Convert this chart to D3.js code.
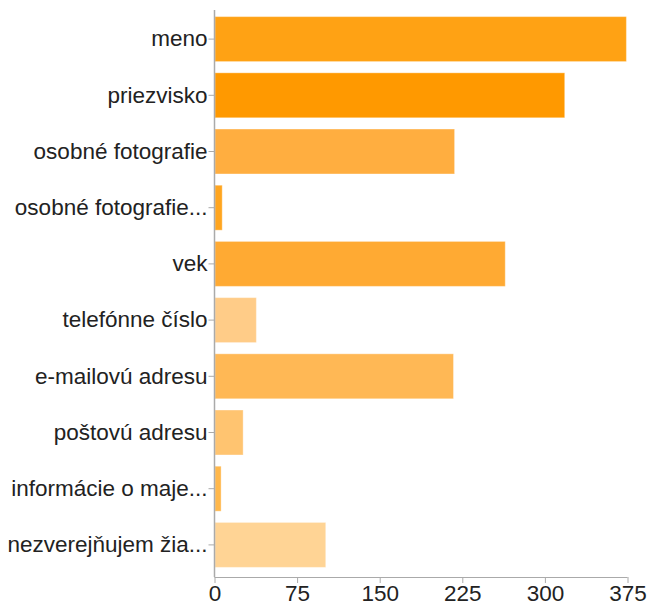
<!DOCTYPE html>
<html>
<head>
<meta charset="utf-8">
<script src="https://cdn.jsdelivr.net/npm/d3@7/dist/d3.min.js"></script>
<style>
  html, body { margin: 0; padding: 0; background: #fff; }
  svg { display: block; }
  text { font-family: "Liberation Sans", Arial, Helvetica, sans-serif; }
</style>
</head>
<body>
<svg id="chart" width="648" height="606"></svg>
<script>
const categories = [
  "meno",
  "priezvisko",
  "osobné fotografie",
  "osobné fotografie...",
  "vek",
  "telefónne číslo",
  "e-mailovú adresu",
  "poštovú adresu",
  "informácie o maje...",
  "nezverejňujem žia..."
];
const values = [374, 318, 218, 7, 264, 38, 217, 26, 6, 101];
const barColors = ["#ffa214", "#ff9900", "#ffae40", "#ffa51f", "#ffaa33",
                   "#ffcc88", "#ffb855", "#ffc470", "#ffb74a", "#ffd495"];
const xTicks = [0, 75, 150, 225, 300, 375];

const svg = d3.select("#chart");
const plotLeft = 214.5, plotRight = 627.5, plotTop = 10, plotBottom = 577;

const x = d3.scaleLinear().domain([0, 375]).range([plotLeft, plotRight]);
const y = d3.scaleBand().domain(categories).range([11, 573])
  .paddingInner(0.2).paddingOuter(0.1);

// bars
svg.append("g").selectAll("rect")
  .data(categories)
  .join("rect")
  .attr("x", x(0) + 0.5)
  .attr("y", d => y(d))
  .attr("width", (d, i) => Math.max(0, x(values[i]) - x(0) - 0.5))
  .attr("height", y.bandwidth())
  .attr("fill", (d, i) => barColors[i])
  .attr("stroke", "rgba(255,255,255,0.35)")
  .attr("stroke-width", 1);

// y axis
const yAxis = d3.axisLeft(y).tickSize(6).tickPadding(1);
const gy = svg.append("g").attr("transform", `translate(${plotLeft},0)`).call(yAxis);
gy.select(".domain").remove();
gy.selectAll(".tick line").attr("stroke", "#aaa");
gy.selectAll(".tick text").attr("fill", "#222").attr("font-size", "22.5px");
svg.append("line").attr("x1", plotLeft).attr("x2", plotLeft)
  .attr("y1", plotTop).attr("y2", plotBottom)
  .attr("stroke", "#aaa").attr("stroke-width", 1.5);

// x axis
const xAxis = d3.axisBottom(x).tickValues(xTicks).tickSize(6).tickPadding(2)
  .tickFormat(d3.format("d"));
const gx = svg.append("g").attr("transform", `translate(0,${plotBottom})`).call(xAxis);
gx.select(".domain").attr("stroke", "#aaa").attr("d", `M${plotLeft},0.5H${plotRight}`);
gx.selectAll(".tick line").attr("stroke", "#aaa");
gx.selectAll(".tick text").attr("fill", "#222").attr("font-size", "22.5px");
</script>
</body>
</html>
